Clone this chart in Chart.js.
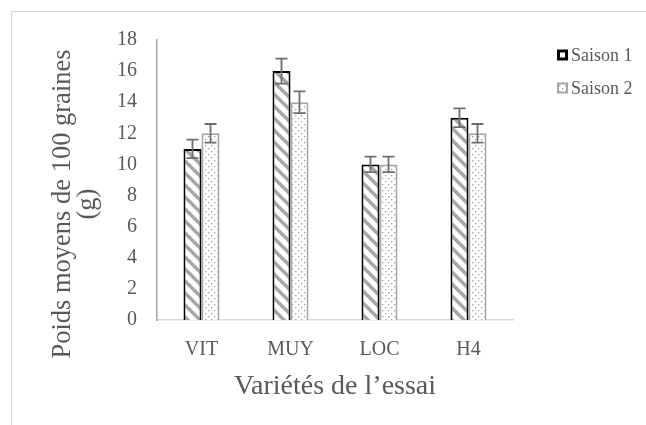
<!DOCTYPE html>
<html lang="fr">
<head>
<meta charset="UTF-8">
<title>Poids moyens de 100 graines</title>
<script src="https://cdn.jsdelivr.net/npm/chart.js"></script>
<style>
    body {
        margin: 0;
        background: #fff;
    }
    .frame {
        position: absolute;
        left: 11px;
        top: 11px;
        width: 640px;
        height: 420px;
        border-left: 1px solid #d9d9d9;
        border-top: 1px solid #d9d9d9;
    }
    .wrap {
        position: absolute;
        left: 0;
        top: 0;
        width: 646px;
        height: 425px;
    }
</style>
</head>
<body>
<div class="frame"></div>
<div class="wrap"><canvas id="chart"></canvas></div>

<script>
    // données
    const varietes = ['VIT', 'MUY', 'LOC', 'H4'];
    const saison1 = [11, 16, 10, 13];
    const saison2 = [12, 14, 10, 12];
    const erreur1 = [0.6, 0.8, 0.5, 0.6];
    const erreur2 = [0.6, 0.7, 0.5, 0.6];
    const yTitre = ['Poids moyens de 100 graines', '(g)'];
    const xTitre = 'Variétés de l\u2019essai';

    const serif = "'Liberation Serif', 'Times New Roman', serif";
    const texte = '#595959';

    // motif hachuré (saison 1)
    function hachures() {
        const s = 12;
        const c = document.createElement('canvas');
        c.width = s; c.height = s;
        const g = c.getContext('2d');
        g.fillStyle = '#fff';
        g.fillRect(0, 0, s, s);
        g.strokeStyle = '#a6a6a6';
        g.lineWidth = 3.4;
        for (let k = -1; k <= 1; k++) {
            g.beginPath();
            g.moveTo(k * s - 2, -2);
            g.lineTo(k * s + s + 2, s + 2);
            g.stroke();
        }
        return g.createPattern(c, 'repeat');
    }

    // motif pointillé (saison 2)
    function points() {
        const s = 6;
        const c = document.createElement('canvas');
        c.width = s; c.height = s;
        const g = c.getContext('2d');
        g.fillStyle = '#fff';
        g.fillRect(0, 0, s, s);
        g.fillStyle = '#a0a0a0';
        g.fillRect(1, 1, 1.3, 1.3);
        g.fillRect(4, 4, 1.3, 1.3);
        return g.createPattern(c, 'repeat');
    }

    // barres d'erreur
    const barresErreur = {
        id: 'barresErreur',
        afterDatasetsDraw(chart) {
            const ctx = chart.ctx;
            const y = chart.scales.y;
            const erreurs = [erreur1, erreur2];
            ctx.save();
            ctx.strokeStyle = '#6f6f6f';
            ctx.lineWidth = 1.8;
            chart.data.datasets.forEach((ds, i) => {
                chart.getDatasetMeta(i).data.forEach((bar, j) => {
                    const v = ds.data[j];
                    const e = erreurs[i][j];
                    const y1 = y.getPixelForValue(v + e);
                    const y2 = y.getPixelForValue(v - e);
                    ctx.beginPath();
                    ctx.moveTo(bar.x, y1); ctx.lineTo(bar.x, y2);
                    ctx.moveTo(bar.x - 6, y1); ctx.lineTo(bar.x + 6, y1);
                    ctx.moveTo(bar.x - 6, y2); ctx.lineTo(bar.x + 6, y2);
                    ctx.stroke();
                });
            });
            ctx.restore();
        }
    };

    // titre de l'axe vertical (décalé vers le bas comme dans Excel) et légende à droite
    const habillage = {
        id: 'habillage',
        afterDraw(chart) {
            const ctx = chart.ctx;
            ctx.save();
            ctx.fillStyle = texte;
            ctx.font = '26.5px ' + serif;
            ctx.textAlign = 'center';
            ctx.textBaseline = 'middle';
            ctx.translate(63, 204);
            ctx.rotate(-Math.PI / 2);
            yTitre.forEach((l, i) => ctx.fillText(l, 0, i * 25));
            ctx.restore();

            // légende
            ctx.save();
            ctx.font = '18px ' + serif;
            ctx.textBaseline = 'middle';
            ctx.textAlign = 'left';
            chart.data.datasets.forEach((ds, i) => {
                const cy = 55 + i * 33;
                const lw = i === 0 ? 3 : 2;
                ctx.fillStyle = i === 0 ? '#fff' : ds.backgroundColor;
                ctx.fillRect(557, cy - 5.5, 11, 11);
                ctx.strokeStyle = ds.borderColor;
                ctx.lineWidth = lw;
                ctx.strokeRect(557 + lw / 2, cy - 5.5 + lw / 2, 11 - lw, 11 - lw);
                ctx.fillStyle = texte;
                ctx.fillText(ds.label, 571, cy + 1);
            });
            ctx.restore();
        }
    };

    const ctx = document.getElementById('chart').getContext('2d');
    new Chart(ctx, {
        type: 'bar',
        data: {
            labels: varietes,
            datasets: [{
                label: 'Saison 1',
                data: saison1,
                backgroundColor: hachures(),
                borderColor: '#000',
                borderWidth: 2
            }, {
                label: 'Saison 2',
                data: saison2,
                backgroundColor: points(),
                borderColor: '#a6a6a6',
                borderWidth: 2
            }]
        },
        options: {
            responsive: true,
            maintainAspectRatio: false,
            animation: false,
            categoryPercentage: 0.405,
            barPercentage: 1,
            layout: {
                padding: { top: 40, left: 0, right: 133, bottom: 0 }
            },
            plugins: {
                tooltip: { enabled: false },
                legend: { display: false }
            },
            scales: {
                x: {
                    grid: { display: false, drawTicks: false },
                    border: { color: '#d9d9d9', width: 1.5 },
                    ticks: {
                        color: texte,
                        font: { family: serif, size: 20 },
                        padding: 18
                    },
                    title: {
                        display: true,
                        text: xTitre,
                        color: texte,
                        font: { family: serif, size: 28, lineHeight: 1 },
                        padding: { top: 0, bottom: 24 }
                    },
                    afterFit(scale) { scale.height = 105; }
                },
                y: {
                    min: 0,
                    max: 18,
                    grid: { display: false, drawTicks: false },
                    border: { color: '#a6a6a6', width: 1.5 },
                    ticks: {
                        stepSize: 2,
                        color: texte,
                        font: { family: serif, size: 20 },
                        padding: 20
                    },
                    afterFit(scale) { scale.width = 157; }
                }
            }
        },
        plugins: [barresErreur, habillage]
    });
</script>
</body>
</html>
